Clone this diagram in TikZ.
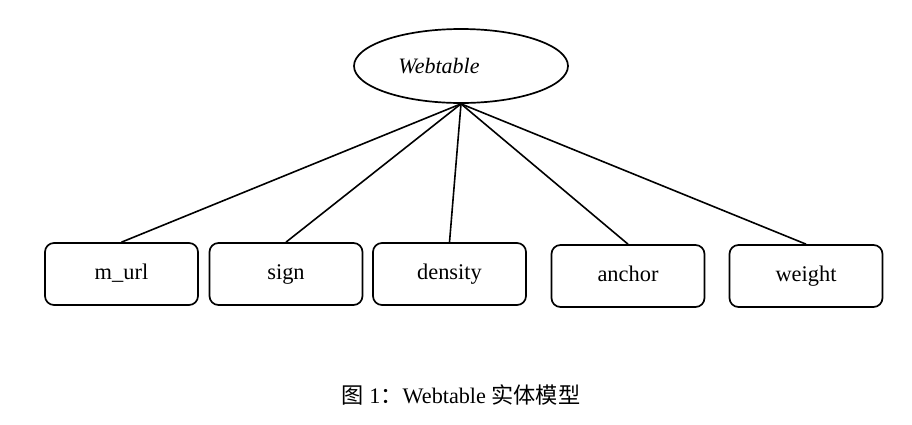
\documentclass[tikz,border=0pt]{standalone}
\usepackage{fontspec}
\setmainfont{Liberation Serif}
\newfontfamily\cjk{Noto Sans CJK SC}
\usetikzlibrary{shapes.geometric}
\begin{document}
\begin{tikzpicture}[x=0.5pt,y=-0.5pt,
  attrbox/.style={draw,line width=0.85pt,rounded corners=4.5pt,minimum width=76.5pt,minimum height=31pt,inner sep=0pt,text height=7.5pt,text depth=2.5pt,font=\fontsize{11.2}{13}\selectfont},
  entity/.style={draw,ellipse,line width=0.85pt,minimum width=107pt,minimum height=37pt,inner sep=0pt,font=\fontsize{11}{13}\selectfont\itshape},
  link/.style={line width=0.8pt}]
\useasboundingbox (0,0) rectangle (912,424);
\fill[white] (0,0) rectangle (912,424);
\node[entity] (W) at (461,66) {Webtable\hspace*{22pt}};
\node[attrbox] (a1) at (121.5,274) {m\_url};
\node[attrbox] (a2) at (286,274) {sign};
\node[attrbox] (a3) at (449.5,274) {density};
\node[attrbox] (a4) at (628,276) {anchor};
\node[attrbox] (a5) at (806,276) {weight};
\foreach \n in {a1,a2,a3,a4,a5} \draw[link] (W.south) -- (\n.north);
\node[font=\fontsize{11.1}{13}\selectfont] (cap) at (461,395) {{\cjk 图} 1{\cjk ：}Webtable {\cjk 实体模型}};
\end{tikzpicture}
\end{document}
